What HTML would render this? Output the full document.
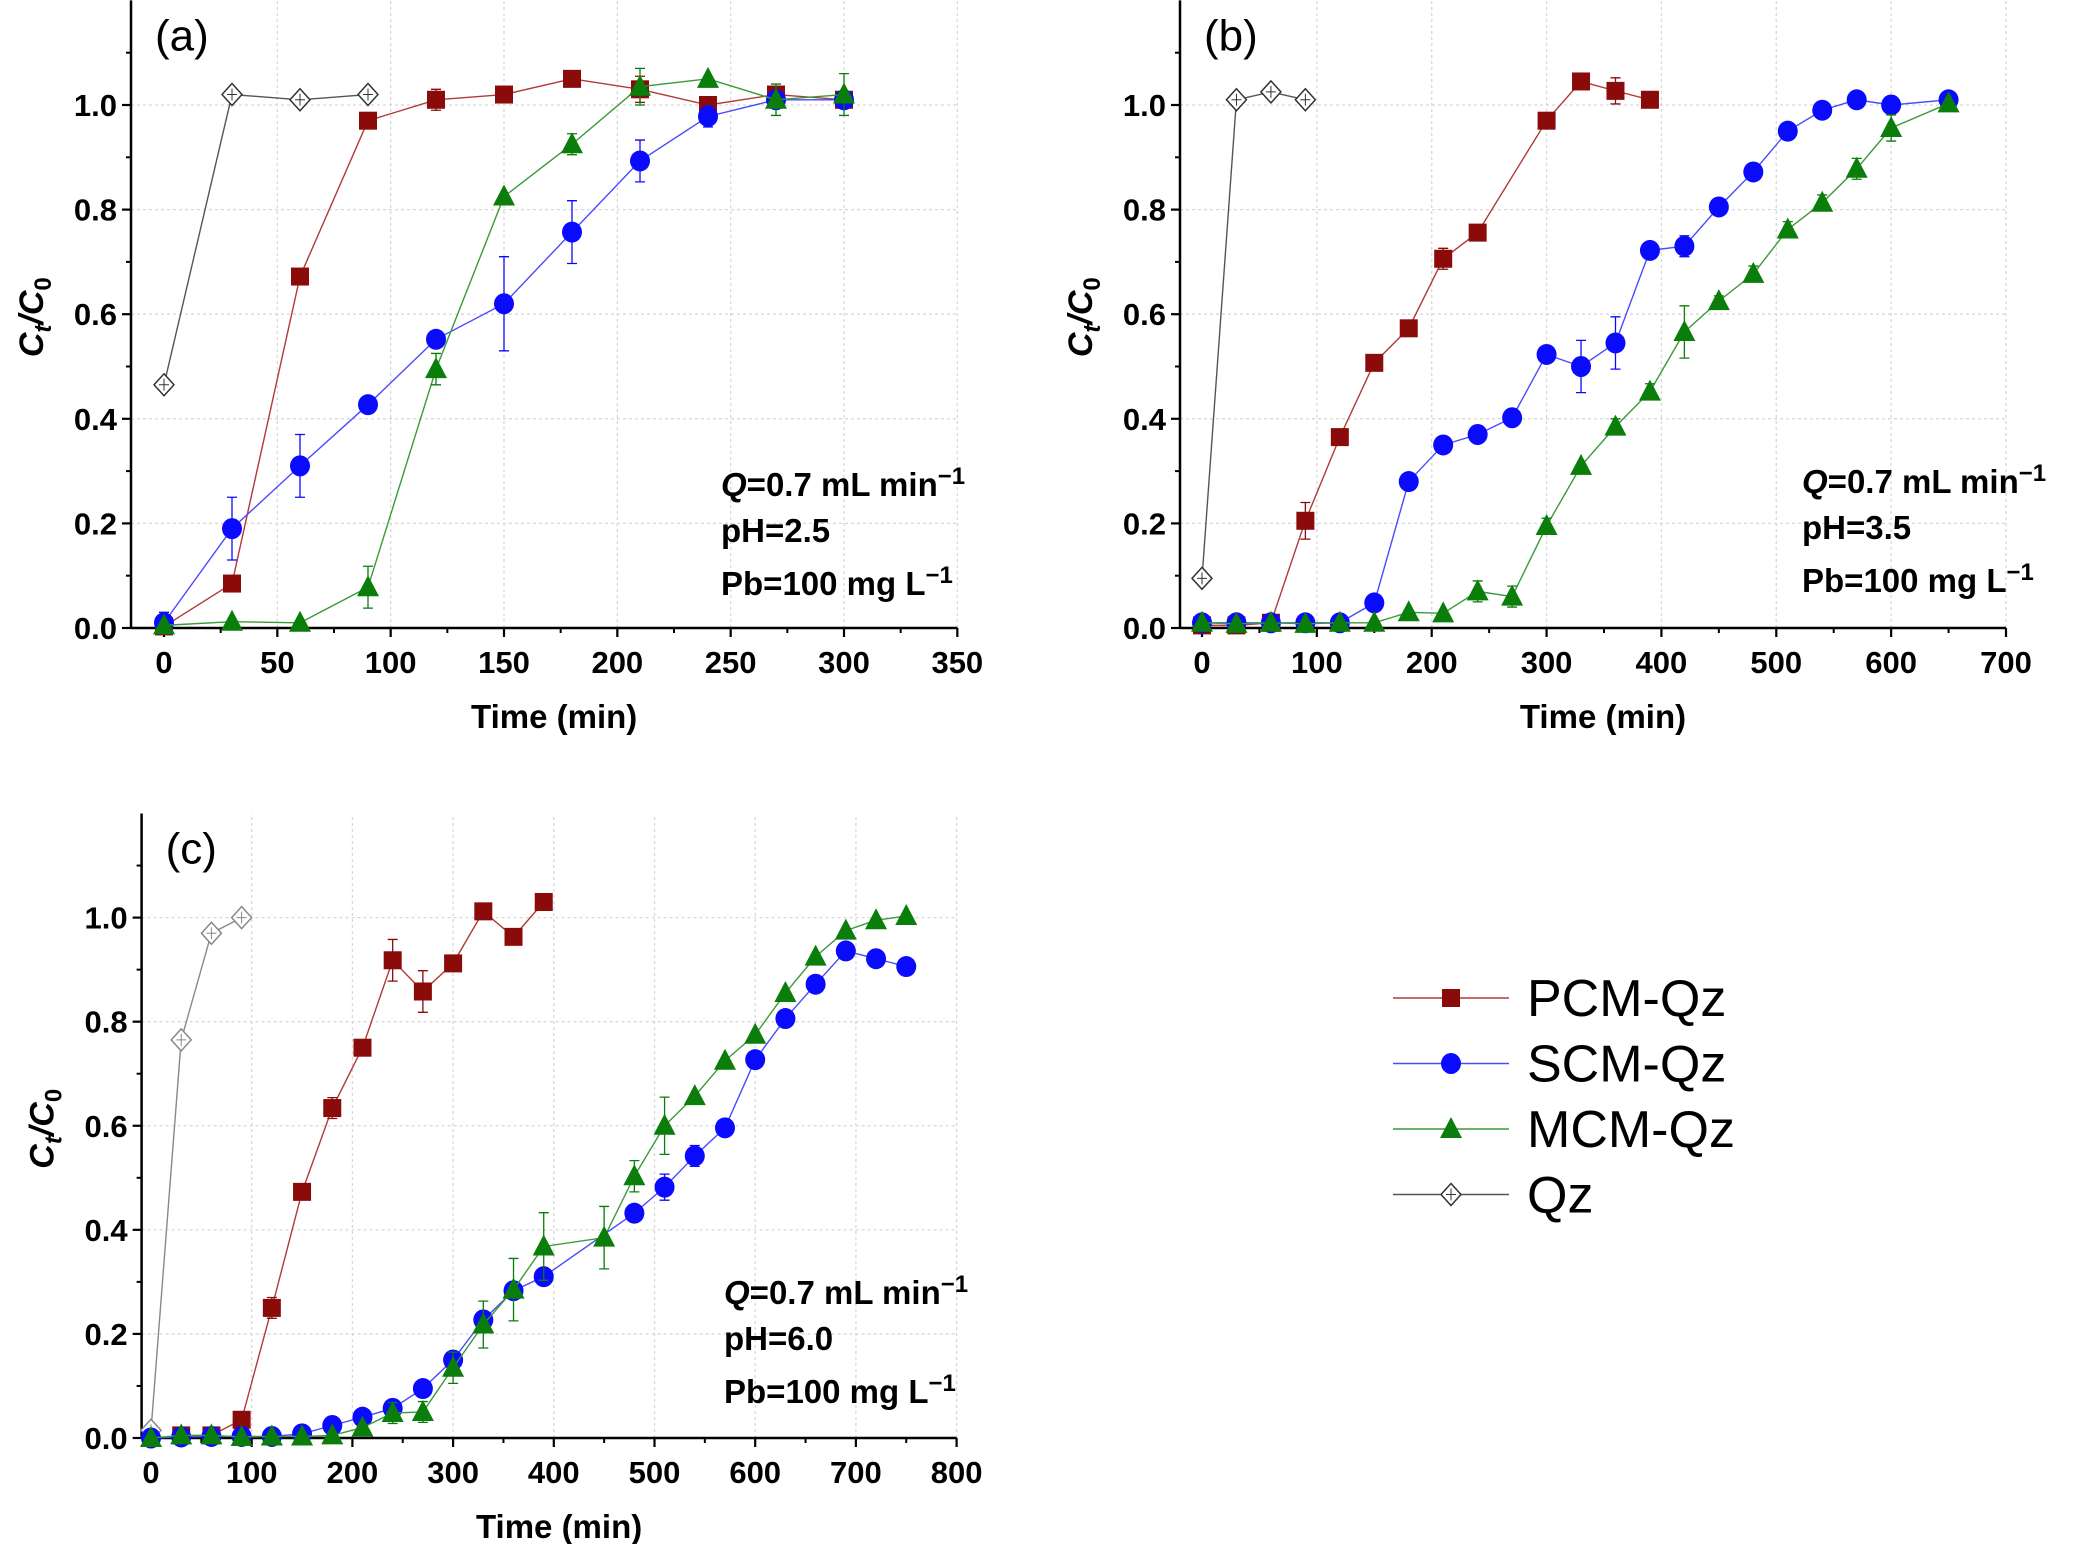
<!DOCTYPE html>
<html><head><meta charset="utf-8"><style>
body{margin:0;background:#fff}
svg{display:block}
text{font-family:"Liberation Sans",Arial,sans-serif}
</style></head><body>
<svg id="svg" xmlns="http://www.w3.org/2000/svg" width="2075" height="1544" viewBox="0 0 2075 1544">
<g id="legend"></g>
</svg>
<script>
// ---------- data ----------
const aQzT=[0,30,60,90]; const aQzV=[0.465,1.02,1.01,1.02];
const aPcmT=[0,30,60,90,120,150,180,210,240,270,300]; const aPcmV=[0.003,0.085,0.672,0.97,1.01,1.02,1.05,1.03,1.0,1.02,1.01];
const aPcmE=[0,0,0.01,0,0.02,0,0,0.025,0,0.01,0.01];
const aScmT=[0,30,60,90,120,150,180,210,240,270,300]; const aScmV=[0.01,0.19,0.31,0.427,0.552,0.62,0.757,0.893,0.978,1.01,1.01];
const aScmE=[0.02,0.06,0.06,0,0,0.09,0.06,0.04,0.02,0.01,0.01];
const aMcmT=[0,30,60,90,120,150,180,210,240,270,300]; const aMcmV=[0.005,0.012,0.01,0.078,0.495,0.825,0.925,1.035,1.05,1.01,1.02];
const aMcmE=[0,0,0,0.04,0.03,0,0.02,0.035,0,0.03,0.04];

const bQzT=[0,30,60,90]; const bQzV=[0.095,1.01,1.025,1.01];
const bPcmT=[0,30,60,90,120,150,180,210,240,300,330,360,390]; const bPcmV=[0.005,0.005,0.01,0.205,0.365,0.507,0.573,0.706,0.756,0.97,1.045,1.027,1.01];
const bPcmE=[0,0,0,0.035,0,0,0,0.02,0,0.015,0,0.025,0];
const bScmT=[0,30,60,90,120,150,180,210,240,270,300,330,360,390,420,450,480,510,540,570,600,650]; const bScmV=[0.01,0.01,0.01,0.01,0.01,0.048,0.28,0.35,0.37,0.402,0.523,0.5,0.545,0.722,0.73,0.805,0.872,0.95,0.99,1.01,1.0,1.01];
const bScmE=[0,0,0,0,0,0,0,0,0,0,0,0.05,0.05,0,0.02,0,0,0,0,0,0,0];
const bMcmT=[0,30,60,90,120,150,180,210,240,270,300,330,360,390,420,450,480,510,540,570,600,650]; const bMcmV=[0.01,0.008,0.01,0.008,0.01,0.01,0.03,0.028,0.07,0.06,0.195,0.31,0.385,0.452,0.566,0.625,0.677,0.762,0.813,0.878,0.956,1.003];
const bMcmE=[0,0,0,0,0,0,0,0,0.02,0.02,0.015,0,0.015,0.015,0.05,0.01,0.015,0.015,0.015,0.02,0.025,0];

const cQzT=[0,30,60,90]; const cQzV=[0.015,0.765,0.97,1.0];
const cPcmT=[30,60,90,120,150,180,210,240,270,300,330,360,390]; const cPcmV=[0.005,0.005,0.035,0.25,0.473,0.634,0.75,0.918,0.858,0.912,1.012,0.963,1.03];
const cPcmE=[0,0,0,0.02,0.01,0.02,0,0.04,0.04,0,0,0,0];
const cScmT=[0,30,60,90,120,150,180,210,240,270,300,330,360,390,480,510,540,570,600,630,660,690,720,750]; const cScmV=[0,0.002,0.003,0.003,0.003,0.008,0.024,0.04,0.057,0.095,0.15,0.227,0.283,0.31,0.432,0.482,0.542,0.596,0.727,0.806,0.872,0.936,0.921,0.906];
const cScmE=[0,0,0,0,0,0,0,0,0,0,0.01,0.01,0.01,0,0,0.025,0.02,0,0,0,0,0,0,0];
const cMcmT=[0,30,60,90,120,150,180,210,240,270,300,330,360,390,450,480,510,540,570,600,630,660,690,720,750]; const cMcmV=[0,0.005,0.005,0.002,0.003,0.003,0.005,0.02,0.048,0.05,0.135,0.218,0.285,0.368,0.385,0.503,0.6,0.657,0.725,0.775,0.855,0.925,0.975,0.995,1.003];
const cMcmE=[0,0,0,0,0,0,0,0,0.02,0.02,0.03,0.045,0.06,0.065,0.06,0.03,0.055,0,0,0,0,0,0,0,0];

const yTicks=[0,0.2,0.4,0.6,0.8,1.0];
const aXTicks=[0,50,100,150,200,250,300,350];
const bXTicks=[0,100,200,300,400,500,600,700];
const cXTicks=[0,100,200,300,400,500,600,700,800];
const legendLabels=["PCM-Qz","SCM-Qz","MCM-Qz","Qz"];

// ---------- drawing ----------
const NS="http://www.w3.org/2000/svg", svg=document.getElementById('svg');
function mk(tag,attrs,parent,txt){const e=document.createElementNS(NS,tag);for(const k in attrs)e.setAttribute(k,attrs[k]);if(txt!==undefined)e.textContent=txt;(parent||svg).appendChild(e);return e;}
const COL={pcm:{m:"#8b0a0a",l:"#b03a3a"},scm:{m:"#0a0aff",l:"#4a4aff"},mcm:{m:"#0a7d0a",l:"#3a9a3a"}};

function marker(g,type,x,y,qzCol){
  if(type==='pcm'){const e=mk('rect',{x:x-9,y:y-9,width:18,height:18,fill:COL.pcm.m},g);}
  else if(type==='scm'){const e=mk('ellipse',{cx:x,cy:y,rx:10,ry:10.5,fill:COL.scm.m},g);}
  else if(type==='mcm'){const e=mk('polygon',{points:`${x},${y-12} ${x+11},${y+9} ${x-11},${y+9}`,fill:COL.mcm.m},g);}
  else {const e=mk('polygon',{points:`${x},${y-11} ${x+10},${y} ${x},${y+11} ${x-10},${y}`,fill:'#fff',stroke:qzCol,'stroke-width':1.5},g);
    mk('path',{d:`M${x-5},${y}H${x+5}M${x},${y-6}V${y+6}`,stroke:qzCol,'stroke-width':1},g);}
}

function panel(p){
  const g=mk('g',{});
  
  
  const X=v=>p.x0+(v-p.xmin)*(p.x1-p.x0)/(p.xmax-p.xmin);
  const Y=v=>p.y0-v*(p.y0-p.y1);
  const left=p.ax, right=X(p.xTicks[p.xTicks.length-1]), top=Y(1.2);
  yTicks.forEach(t=>{if(t>0)mk('line',{x1:left,x2:right,y1:Y(t),y2:Y(t),stroke:'#d8d8d8','stroke-width':1.3,'stroke-dasharray':'3,3'},g);});
  p.xTicks.forEach(t=>{if(t>0)mk('line',{x1:X(t),x2:X(t),y1:Y(0),y2:top,stroke:'#d8d8d8','stroke-width':1.3,'stroke-dasharray':'3,3'},g);});
  const ya=mk('line',{x1:left,x2:left,y1:Y(0),y2:top,stroke:'#000','stroke-width':2.5},g);
  const xa=mk('line',{x1:left,x2:right,y1:Y(0),y2:Y(0),stroke:'#000','stroke-width':2.5},g);
  yTicks.forEach(t=>{mk('line',{x1:left-9,x2:left,y1:Y(t),y2:Y(t),stroke:'#000','stroke-width':2.2},g);mk('line',{x1:left-5,x2:left,y1:Y(t+0.1),y2:Y(t+0.1),stroke:'#000','stroke-width':2},g);
    const tl=mk('text',{x:left-14,y:Y(t)+11,'font-size':31,'font-weight':'bold','text-anchor':'end'},g,t.toFixed(1));});
  p.xTicks.forEach((t,i)=>{mk('line',{x1:X(t),x2:X(t),y1:Y(0),y2:Y(0)+9,stroke:'#000','stroke-width':2.2},g);
    if(i<p.xTicks.length-1){const m=(t+p.xTicks[i+1])/2;mk('line',{x1:X(m),x2:X(m),y1:Y(0),y2:Y(0)+5,stroke:'#000','stroke-width':2},g);}
    const tl=mk('text',{x:X(t),y:Y(0)+45,'font-size':31,'font-weight':'bold','text-anchor':'middle'},g,String(t));});
  const xt=mk('text',{x:(left+right)/2+10,y:Y(0)+100,'font-size':33,'font-weight':'bold','text-anchor':'middle'},g,'Time (min)');
  const yt=mk('text',{transform:`translate(${left-88},${(Y(0)+top)/2+3}) rotate(-90)`,'font-size':34,'font-weight':'bold','font-style':'italic','text-anchor':'middle'},g);
  
  yt.innerHTML='C<tspan font-size="24" dy="8">t</tspan><tspan dy="-8">/C</tspan><tspan font-size="24" dy="8" font-style="normal">0</tspan>';
  const pl=mk('text',{x:left+24,y:top+50,'font-size':44},g,'('+p.id+')');
  const an=mk('g',{},g);
  const ax=p.annX, ay=p.annY;
  mk('text',{x:ax,y:ay,'font-size':33,'font-weight':'bold'},an).innerHTML='<tspan font-style="italic">Q</tspan>=0.7 mL min<tspan font-size="24" dy="-12">−1</tspan>';
  mk('text',{x:ax,y:ay+46,'font-size':33,'font-weight':'bold'},an,'pH='+p.ph);
  mk('text',{x:ax,y:ay+99,'font-size':33,'font-weight':'bold'},an).innerHTML='Pb=100 mg L<tspan font-size="24" dy="-12">−1</tspan>';
  p.series.forEach(s=>{
    const sg=mk('g',{},g);
    const lc=s.type==='qz'?p.qzLine:COL[s.type].l, mc=s.type==='qz'?p.qzCol:COL[s.type].m;
    mk('polyline',{points:s.t.map((t,i)=>X(t)+','+Y(s.v[i])).join(' '),fill:'none',stroke:lc,'stroke-width':1.4},sg);
    if(s.e)s.t.forEach((t,i)=>{const e=s.e[i];if(e>0){const x=X(t);mk('path',{d:`M${x},${Y(s.v[i]-e)}V${Y(s.v[i]+e)}M${x-5},${Y(s.v[i]-e)}H${x+5}M${x-5},${Y(s.v[i]+e)}H${x+5}`,stroke:mc,'stroke-width':1.3,fill:'none'},sg);}});
    s.t.forEach((t,i)=>marker(sg,s.type,X(t),Y(s.v[i]),mc));
  });
}

panel({id:'a',ax:131,x0:164,x1:844,xmin:0,xmax:300,y0:628,y1:105,xTicks:aXTicks,annX:721,annY:496,ph:'2.5',qzCol:'#333',qzLine:'#555',
  series:[{type:'qz',t:aQzT,v:aQzV},{type:'pcm',t:aPcmT,v:aPcmV,e:aPcmE},{type:'scm',t:aScmT,v:aScmV,e:aScmE},{type:'mcm',t:aMcmT,v:aMcmV,e:aMcmE}]});
panel({id:'b',ax:1180,x0:1202,x1:2006,xmin:0,xmax:700,y0:628,y1:105,xTicks:bXTicks,annX:1802,annY:493,ph:'3.5',qzCol:'#333',qzLine:'#555',
  series:[{type:'qz',t:bQzT,v:bQzV},{type:'pcm',t:bPcmT,v:bPcmV,e:bPcmE},{type:'scm',t:bScmT,v:bScmV,e:bScmE},{type:'mcm',t:bMcmT,v:bMcmV,e:bMcmE}]});
panel({id:'c',ax:141.6,x0:151,x1:956.6,xmin:0,xmax:800,y0:1438,y1:917.6,xTicks:cXTicks,annX:724,annY:1304,ph:'6.0',qzCol:'#888',qzLine:'#888',
  series:[{type:'qz',t:cQzT,v:cQzV},{type:'pcm',t:cPcmT,v:cPcmV,e:cPcmE},{type:'scm',t:cScmT,v:cScmV,e:cScmE},{type:'mcm',t:cMcmT,v:cMcmV,e:cMcmE}]});

const lg=document.getElementById('legend');
const ltypes=['pcm','scm','mcm','qz'];
legendLabels.forEach((lab,i)=>{
  const y=998+i*65.5;
  const e=mk('g',{},lg);
  
  
  const lc=ltypes[i]==='qz'?'#555':COL[ltypes[i]].l, mc=ltypes[i]==='qz'?'#333':COL[ltypes[i]].m;
  mk('line',{x1:1393,x2:1509,y1:y,y2:y,stroke:lc,'stroke-width':1.4},e);
  marker(e,ltypes[i],1451,y,mc);
  mk('text',{x:1527,y:y+18,'font-size':52},e,lab);
});
</script>
</body></html>
